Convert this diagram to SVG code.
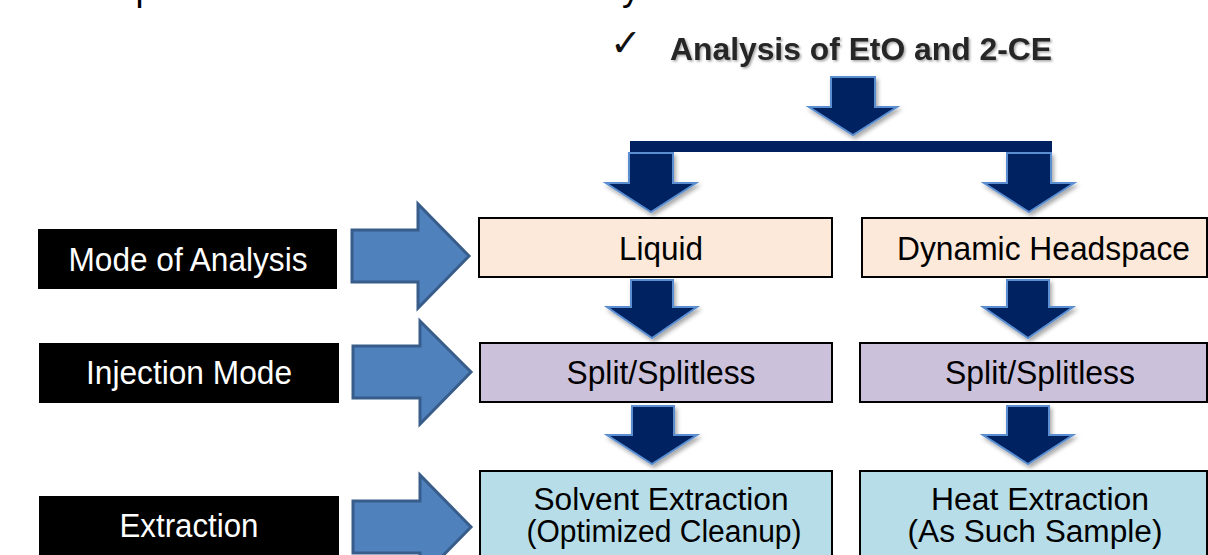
<svg xmlns="http://www.w3.org/2000/svg" width="1208" height="555" viewBox="0 0 1208 555">
<style>
  .lbl rect { fill: #000; }
  .lbl text { fill: #fff; font-family: "Liberation Sans", Arial, sans-serif; font-size: 34px; text-anchor: middle; }
  .box text { fill: #000; font-family: "Liberation Sans", Arial, sans-serif; font-size: 34px; text-anchor: middle; }
  .box text.two { font-size: 31px; }
  .box rect { stroke: #000; stroke-width: 2; }
  .peach { fill: #FDE9D9; }
  .lav { fill: #CCC1DA; }
  .cyan { fill: #B7DEE8; }
  .down { fill: #002060; stroke: #5A8ED0; stroke-width: 2; stroke-linejoin: miter; filter: url(#sh); }
  .right { fill: #4F81BD; stroke: #385D8A; stroke-width: 3; }
  .frag { fill: #000; font-family: "Liberation Sans", Arial, sans-serif; font-size: 36px; }
</style>
<defs>
  <filter id="sh" x="-20%" y="-20%" width="150%" height="150%">
    <feDropShadow dx="2" dy="3" stdDeviation="2" flood-color="#000" flood-opacity="0.35"/>
  </filter>
  <filter id="tsh" x="-5%" y="-30%" width="110%" height="160%">
    <feDropShadow dx="1.5" dy="1.5" stdDeviation="1" flood-color="#000" flood-opacity="0.35"/>
  </filter>
</defs>
<rect width="1208" height="555" fill="#fff"/>

<g id="top-fragments">
  <text class="frag" x="135.5" y="-0.5">p</text>
  <text class="frag" x="622" y="-0.5">y</text>
</g>

<g id="title">
  <text x="610" y="56" font-family="DejaVu Sans, sans-serif" font-size="38" fill="#111">✓</text>
  <text x="670" y="60" font-family="Liberation Sans, Arial, sans-serif" font-size="32" font-weight="bold" fill="#262626" textLength="382" lengthAdjust="spacingAndGlyphs" filter="url(#tsh)">Analysis of EtO and 2-CE</text>
</g>

<g id="label-mode" class="lbl">
  <rect x="38" y="229" width="299" height="60"/>
  <text x="188" y="270.5" textLength="239" lengthAdjust="spacingAndGlyphs">Mode of Analysis</text>
</g>
<g id="label-injection" class="lbl">
  <rect x="39" y="343" width="300" height="60"/>
  <text x="189" y="384" textLength="206" lengthAdjust="spacingAndGlyphs">Injection Mode</text>
</g>
<g id="label-extraction" class="lbl">
  <rect x="39" y="496" width="300" height="62"/>
  <text x="189" y="537" textLength="139" lengthAdjust="spacingAndGlyphs">Extraction</text>
</g>

<g id="box-liquid" class="box">
  <rect class="peach" x="479" y="218" width="353" height="59"/>
  <text x="661" y="260" textLength="84" lengthAdjust="spacingAndGlyphs">Liquid</text>
</g>
<g id="box-dhs" class="box">
  <rect class="peach" x="862" y="218" width="345" height="59"/>
  <text x="1043.5" y="260" textLength="293" lengthAdjust="spacingAndGlyphs">Dynamic Headspace</text>
</g>
<g id="box-split-left" class="box">
  <rect class="lav" x="480" y="343" width="352" height="59"/>
  <text x="661" y="384" textLength="189" lengthAdjust="spacingAndGlyphs">Split/Splitless</text>
</g>
<g id="box-split-right" class="box">
  <rect class="lav" x="860" y="343" width="347" height="59"/>
  <text x="1040" y="384" textLength="190" lengthAdjust="spacingAndGlyphs">Split/Splitless</text>
</g>
<g id="box-solvent" class="box">
  <rect class="cyan" x="480" y="471" width="352" height="90"/>
  <text class="two" x="661" y="510" textLength="255" lengthAdjust="spacingAndGlyphs">Solvent Extraction</text>
  <text class="two" x="664" y="542" textLength="275" lengthAdjust="spacingAndGlyphs">(Optimized Cleanup)</text>
</g>
<g id="box-heat" class="box">
  <rect class="cyan" x="860" y="471" width="347" height="90"/>
  <text class="two" x="1040" y="510" textLength="218" lengthAdjust="spacingAndGlyphs">Heat Extraction</text>
  <text class="two" x="1035" y="542" textLength="255" lengthAdjust="spacingAndGlyphs">(As Such Sample)</text>
</g>

<g id="connectors">
  <path class="down" d="M831,77 H875 V107 H897 L853,135 L809,107 H831 Z"/>
  <rect x="630" y="141" width="422" height="11" fill="#002060"/>
  <path class="down" d="M629,153 H673 V183 H696 L651,212 L606,183 H629 Z"/>
  <path class="down" d="M1007,153 H1051 V183 H1074 L1029,212 L984,183 H1007 Z"/>
  <path class="down" d="M631,280 H673 V307 H697 L652,338 L607,307 H631 Z"/>
  <path class="down" d="M1007,280 H1049 V307 H1073 L1028,338 L983,307 H1007 Z"/>
  <path class="down" d="M632,406 H674 V435 H697 L652,464 L607,435 H632 Z"/>
  <path class="down" d="M1007,406 H1049 V435 H1073 L1028,464 L983,435 H1007 Z"/>
  <path class="right" d="M352,230 H418 V204 L469,256 L418,308 V282 H352 Z"/>
  <path class="right" d="M353,346 H420 V321 L471,372 L420,424 V398 H353 Z"/>
  <path class="right" d="M353,501 H420 V475 L471,527 L420,579 V553 H353 Z"/>
</g>
</svg>
